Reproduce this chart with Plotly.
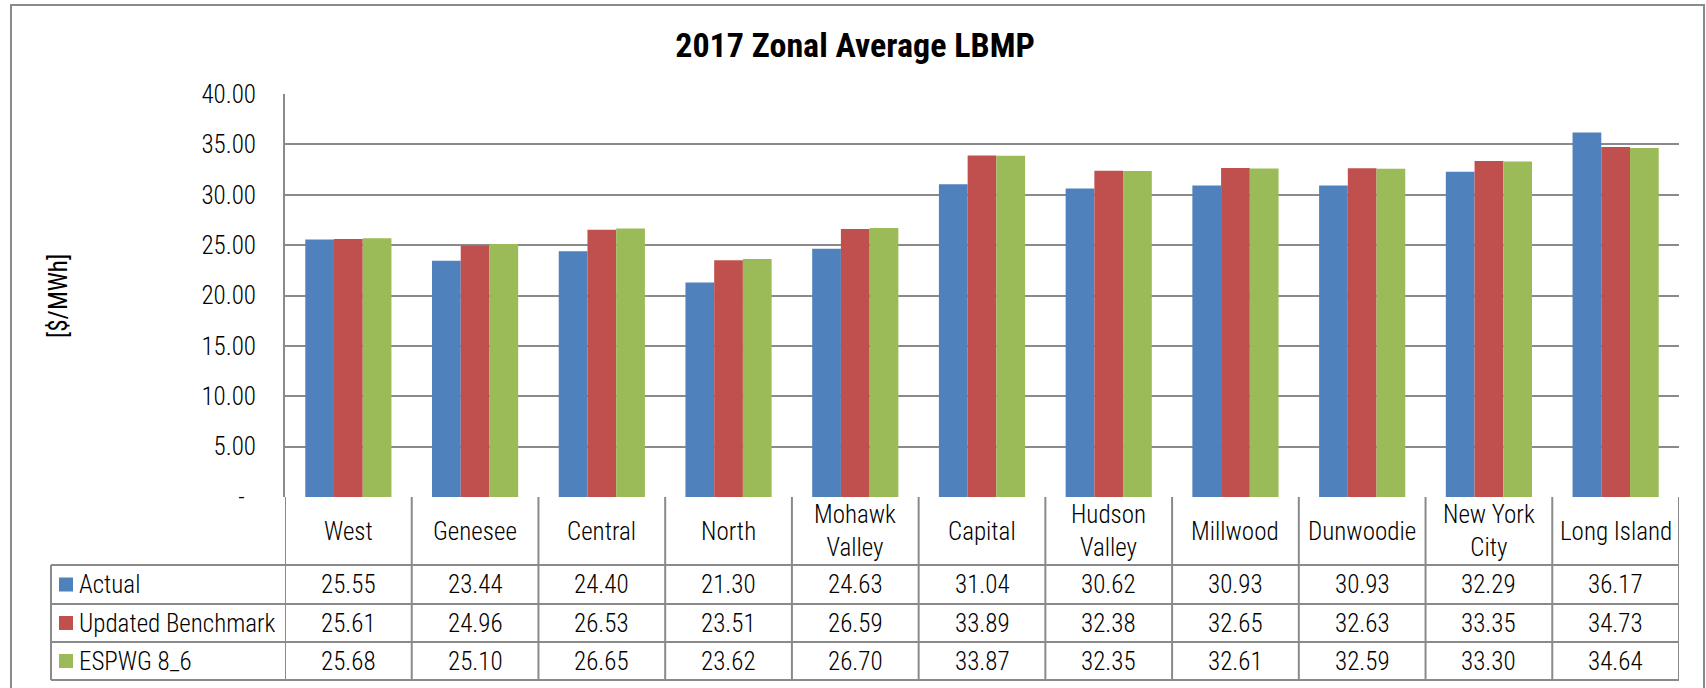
import plotly.graph_objects as go

# ---------------- data ----------------
zones = ["West", "Genesee", "Central", "North", "Mohawk Valley", "Capital",
         "Hudson Valley", "Millwood", "Dunwoodie", "New York City", "Long Island"]
zone_labels = ["West", "Genesee", "Central", "North", "Mohawk<br>Valley", "Capital",
               "Hudson<br>Valley", "Millwood", "Dunwoodie", "New York<br>City", "Long Island"]
actual = [25.55, 23.44, 24.40, 21.30, 24.63, 31.04, 30.62, 30.93, 30.93, 32.29, 36.17]
updated_benchmark = [25.61, 24.96, 26.53, 23.51, 26.59, 33.89, 32.38, 32.65, 32.63, 33.35, 34.73]
espwg_8_6 = [25.68, 25.10, 26.65, 23.62, 26.70, 33.87, 32.35, 32.61, 32.59, 33.30, 34.64]
series_names = ["Actual", "Updated Benchmark", "ESPWG 8_6"]
series_values = [actual, updated_benchmark, espwg_8_6]
colors = ["#4F81BD", "#C0504D", "#9BBB59"]
y_tickvals = [0, 5, 10, 15, 20, 25, 30, 35, 40]
y_ticktext = ["-  ", "5.00", "10.00", "15.00", "20.00", "25.00", "30.00", "35.00", "40.00"]
title_text = "2017 Zonal Average LBMP"
y_title = "[$/MWh]"

# ---------------- layout geometry (pixels) ----------------
W, H = 1706, 688
L, R, T, B = 285, 1679, 94, 497
row_lines = [565, 604, 642, 680]
legend_left = 51
FONT = "Liberation Sans Narrow, Arial Narrow, Roboto Condensed, DejaVu Sans Condensed, sans-serif"
LINE = "#8a8a8a"
FS = 25
TXT = dict(size=FS, color="#000", family=FONT, weight=300)


def px2x(px):
    return (px - L) / (R - L)


def py2y(py):
    return (B - py) / (B - T)


fig = go.Figure()
for name, vals, col in zip(series_names, series_values, colors):
    fig.add_trace(go.Bar(x=zones, y=vals, name=name, marker=dict(color=col, line=dict(width=0)),
                         showlegend=False, hoverinfo="skip"))

shapes = []
annotations = []

# frame
shapes.append(dict(type="rect", xref="paper", yref="paper",
                   x0=px2x(11), x1=px2x(1704), y0=py2y(700), y1=py2y(5),
                   line=dict(color=LINE, width=2), layer="below"))

n = len(zones)
for i in range(n + 1):
    shapes.append(dict(type="line", xref="x", yref="paper",
                       x0=i - 0.5, x1=i - 0.5, y0=py2y(B), y1=py2y(row_lines[-1]),
                       line=dict(color=LINE, width=2)))
shapes.append(dict(type="line", xref="paper", yref="paper",
                   x0=px2x(legend_left), x1=px2x(legend_left),
                   y0=py2y(row_lines[0]), y1=py2y(row_lines[-1]),
                   line=dict(color=LINE, width=2)))
for ry in row_lines:
    shapes.append(dict(type="line", xref="paper", yref="paper",
                       x0=px2x(legend_left), x1=1, y0=py2y(ry), y1=py2y(ry),
                       line=dict(color=LINE, width=2)))

header_c = (B + row_lines[0]) / 2
for z, lab in zip(zones, zone_labels):
    annotations.append(dict(x=z, xref="x", y=py2y(header_c), yref="paper", text=lab,
                            showarrow=False, font=TXT,
                            xanchor="center", yanchor="middle", align="center"))

for r, (name, vals, col) in enumerate(zip(series_names, series_values, colors)):
    top, bot = row_lines[r], row_lines[r + 1]
    cy = (top + bot) / 2
    for z, v in zip(zones, vals):
        annotations.append(dict(x=z, xref="x", y=py2y(cy), yref="paper", text=f"{v:.2f}",
                                showarrow=False, font=TXT,
                                xanchor="center", yanchor="middle"))
    shapes.append(dict(type="rect", xref="paper", yref="paper",
                       x0=px2x(59), x1=px2x(73), y0=py2y(cy + 7), y1=py2y(cy - 7),
                       fillcolor=col, line=dict(width=0)))
    annotations.append(dict(x=px2x(77), xref="paper", y=py2y(cy), yref="paper", text=name,
                            showarrow=False, font=TXT,
                            xanchor="left", yanchor="middle"))

annotations.append(dict(x=px2x(58), xref="paper", y=py2y(296), yref="paper", text=y_title,
                        textangle=-90, showarrow=False, font=dict(size=FS, color="#000", family=FONT),
                        xanchor="center", yanchor="middle"))

fig.update_layout(
    width=W, height=H, autosize=False,
    margin=dict(l=L, r=W - R, t=T, b=H - B, pad=0),
    paper_bgcolor="white", plot_bgcolor="white",
    barmode="group", bargap=0.32, bargroupgap=0,
    title=dict(text=title_text, x=855 / W, xanchor="center", y=1 - 45 / H, yanchor="middle",
               font=dict(size=34, color="#000", family=FONT, weight="bold")),
    font=dict(family=FONT, size=FS, color="#000"),
    xaxis=dict(showticklabels=False, showgrid=False, showline=False, zeroline=False,
               ticks="", range=[-0.5, n - 0.5]),
    yaxis=dict(range=[0, 40], tickvals=y_tickvals, ticktext=y_ticktext, ticks="",
               showgrid=True, gridcolor=LINE, gridwidth=2, zeroline=False,
               showline=True, linecolor=LINE, linewidth=2,
               tickfont=TXT, ticklabelstandoff=22),
    shapes=shapes, annotations=annotations,
)

fig.write_html("out.html", config={"displayModeBar": False},
               post_script="document.body.style.margin='0';document.body.style.overflow='hidden';")
